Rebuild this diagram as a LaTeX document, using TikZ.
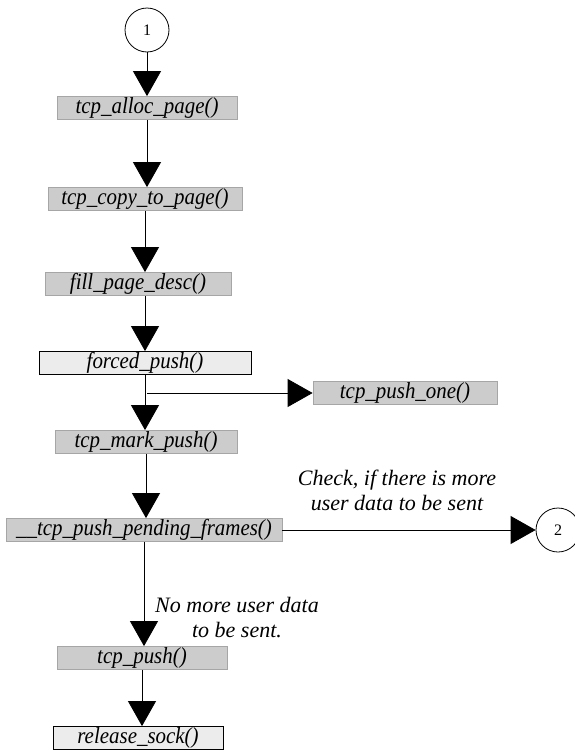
\documentclass[tikz,border=0pt]{standalone}
\usepackage{fontspec}
\setmainfont{Liberation Serif}
\newfontfamily\funcfont[FakeStretch=0.91]{Liberation Serif}
\usetikzlibrary{arrows.meta, positioning}

\begin{document}
\begin{tikzpicture}[x=1pt,y=-1pt,-{Triangle[width=28pt,length=25pt]},line width=0.8pt,
    func/.style={draw=gray!70,fill=gray!40,minimum height=23pt,inner sep=0pt,font=\funcfont\itshape\fontsize{23}{25}\selectfont},
    lockfunc/.style={func,draw=black,fill=gray!15},
    conn/.style={circle,draw,minimum size=44pt,inner sep=0pt,font=\fontsize{16}{18}\selectfont},
    note/.style={align=center,font=\itshape\fontsize{22}{25}\selectfont}]
    \useasboundingbox (0,0) rectangle (575,750);

    \node[conn] (c1) at (147,30) {1};
    \node[func,minimum width=180pt] (alloc) at (147,108) {tcp\_alloc\_page()};
    \node[func,minimum width=194pt] (copy) at (145,199) {tcp\_copy\_to\_page()};
    \node[func,minimum width=186pt] (fill) at (138,284) {fill\_page\_desc()};
    \node[lockfunc,minimum width=212pt] (forced) at (145,363) {forced\_push()};
    \node[func,minimum width=184pt] (pushone) at (405,393) {tcp\_push\_one()};
    \node[func,minimum width=182pt] (mark) at (146,442) {tcp\_mark\_push()};
    \node[func,minimum width=276pt] (pending) at (144,530) {\_\_tcp\_push\_pending\_frames()};
    \node[conn] (c2) at (558,530) {2};
    \node[func,minimum width=170pt] (push) at (142,658) {tcp\_push()};
    \node[lockfunc,minimum width=170pt] (release) at (138,738) {release\_sock()};

    \coordinate (fork) at (147,393);

    \node[note] (more) at (397,490) {Check, if there is more\\user data to be sent};
    \node[note] (nomore) at (237,618) {No more user data\\to be sent.};

    \draw (c1) -- (c1 |- alloc.north);
    \draw (alloc) -- (alloc |- copy.north);
    \draw (copy) -- (copy |- fill.north);
    \draw (fill.south -| forced) -- (forced.north);
    \draw (forced) -- (forced |- mark.north);
    \draw (fork) -- (pushone.west);
    \draw (mark) -- (mark |- pending.north);
    \draw (pending) -- (c2);
    \draw (pending) -- (pending |- push.north);
    \draw (push) -- (push |- release.north);
\end{tikzpicture}
\end{document}
